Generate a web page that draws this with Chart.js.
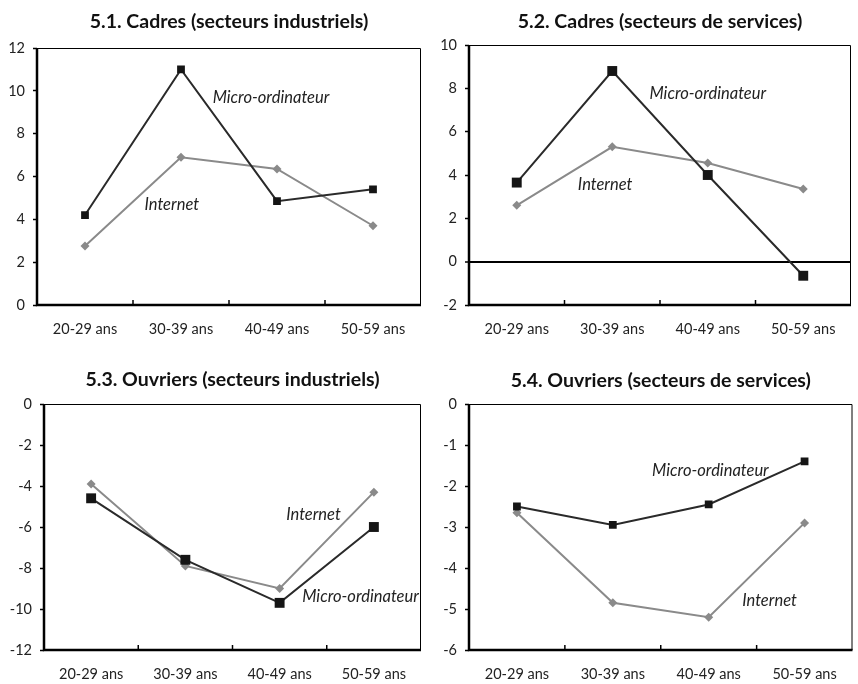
<!DOCTYPE html>
<html>
<head>
<meta charset="utf-8">
<script src="https://cdn.jsdelivr.net/npm/chart.js@4.4.0/dist/chart.umd.min.js"></script>
<style>
  html, body { margin: 0; padding: 0; background: #fff; }
  #wrap { position: relative; width: 858px; height: 684px; }
  .box { position: absolute; width: 429px; height: 342px; }
</style>
</head>
<body>
<div id="wrap">
  <div class="box" style="left:0;top:0"><canvas id="c1"></canvas></div>
  <div class="box" style="left:429px;top:0"><canvas id="c2"></canvas></div>
  <div class="box" style="left:0;top:342px"><canvas id="c3"></canvas></div>
  <div class="box" style="left:429px;top:342px"><canvas id="c4"></canvas></div>
</div>
<script>
// catégories d'âge
const ageLabels = ['20-29 ans', '30-39 ans', '40-49 ans', '50-59 ans'];

// 5.1 Cadres (secteurs industriels)
const microCadresInd = [4.2, 11.0, 4.85, 5.4];
const internetCadresInd = [2.75, 6.9, 6.35, 3.7];
// 5.2 Cadres (secteurs de services)
const microCadresServ = [3.65, 8.8, 4.0, -0.65];
const internetCadresServ = [2.6, 5.3, 4.55, 3.35];
// 5.3 Ouvriers (secteurs industriels)
const microOuvInd = [-4.6, -7.6, -9.7, -6.0];
const internetOuvInd = [-3.9, -7.9, -9.0, -4.3];
// 5.4 Ouvriers (secteurs de services)
const microOuvServ = [-2.5, -2.95, -2.45, -1.4];
const internetOuvServ = [-2.65, -4.85, -5.2, -2.9];

// graduations de l'axe Y : [min, max, pas]
const yCadresInd = [0, 12, 2];
const yCadresServ = [-2, 10, 2];
const yOuvInd = [-12, 0, 2];
const yOuvServ = [-6, 0, 1];

const FONT = 'Lato';

// cadre du graphique + petites graduations vers l'intérieur + étiquettes en italique
const framePlugin = {
  id: 'frame',
  beforeDatasetsDraw(chart) {
    const { ctx, chartArea: a, scales: { x } } = chart;
    ctx.save();
    ctx.strokeStyle = '#000';
    ctx.lineWidth = 1;
    ctx.beginPath();
    ctx.moveTo(a.left, a.top + 0.5);
    ctx.lineTo(a.right - 0.5, a.top + 0.5);
    ctx.lineTo(a.right - 0.5, a.bottom);
    ctx.stroke();
    ctx.lineWidth = 2.5;
    ctx.beginPath();
    ctx.moveTo(a.left, a.top);
    ctx.lineTo(a.left, a.bottom);
    ctx.lineTo(a.right, a.bottom);
    ctx.stroke();
    ctx.lineWidth = 1.5;
    for (let i = 0; i < x.ticks.length - 1; i++) {
      const px = (x.getPixelForTick(i) + x.getPixelForTick(i + 1)) / 2;
      ctx.beginPath();
      ctx.moveTo(px, a.bottom);
      ctx.lineTo(px, a.bottom - 5);
      ctx.stroke();
    }
    ctx.restore();
  },
  afterDatasetsDraw(chart, args, opts) {
    const { ctx, scales: { x, y } } = chart;
    ctx.save();
    ctx.font = 'italic 16.5px ' + FONT;
    ctx.fillStyle = '#222';
    ctx.textBaseline = 'middle';
    (opts.labels || []).forEach(l => {
      ctx.fillText(l.text, x.getPixelForValue(l.x), y.getPixelForValue(l.y));
    });
    ctx.restore();
  }
};

function makeChart(id, cfg) {
  const ctx = document.getElementById(id).getContext('2d');
  return new Chart(ctx, {
    type: 'line',
    data: {
      labels: ageLabels,
      datasets: [{
        label: 'Micro-ordinateur',
        data: cfg.micro,
        borderColor: '#2a2a2a',
        borderWidth: 2,
        pointStyle: 'rect',
        pointRadius: cfg.sq,
        pointHoverRadius: cfg.sq,
        pointBackgroundColor: '#151515',
        pointBorderWidth: 0,
        tension: 0,
      }, {
        label: 'Internet',
        data: cfg.internet,
        borderColor: '#8a8a8a',
        borderWidth: 2,
        pointStyle: 'rectRot',
        pointRadius: 4.5,
        pointHoverRadius: 4.5,
        pointBackgroundColor: '#8a8a8a',
        pointBorderWidth: 0,
        tension: 0,
      }]
    },
    plugins: [framePlugin],
    options: {
      responsive: true,
      maintainAspectRatio: false,
      animation: false,
      layout: { padding: { left: 0, top: 0, right: cfg.right, bottom: 0 } },
      plugins: {
        legend: { display: false },
        tooltip: { enabled: false },
        title: {
          display: true,
          fullSize: false,
          text: cfg.title,
          color: '#111',
          font: { family: FONT, size: 19.5, weight: 'bold', lineHeight: 1.2 },
          padding: { top: cfg.tTop, bottom: cfg.tBottom },
        },
        frame: { labels: cfg.notes },
      },
      scales: {
        x: {
          offset: true,
          grid: { display: false },
          border: { display: false },
          ticks: {
            color: '#222',
            font: { family: FONT, size: 14.5 },
            padding: 8,
            maxRotation: 0,
            minRotation: 0,
            autoSkip: false,
          },
          afterFit: s => { s.height = cfg.bottom; },
        },
        y: {
          min: cfg.y[0],
          max: cfg.y[1],
          ticks: {
            stepSize: cfg.y[2],
            color: '#222',
            font: { family: FONT, size: 14.5 },
            padding: 8,
          },
          border: { display: false },
          grid: {
            drawOnChartArea: !!cfg.zeroLine,
            color: c => (cfg.zeroLine && c.tick.value === 0) ? '#000' : 'rgba(0,0,0,0)',
            lineWidth: c => (cfg.zeroLine && c.tick.value === 0) ? 2 : 1,
            tickColor: '#000',
            tickWidth: 1.5,
            tickLength: 4,
          },
          afterFit: s => { s.width = cfg.left; },
        },
      },
    },
  });
}

makeChart('c1', {
  title: '5.1. Cadres (secteurs industriels)',
  micro: microCadresInd, internet: internetCadresInd, y: yCadresInd,
  left: 37, right: 8, bottom: 37, tTop: 10.3, tBottom: 14.3, sq: 5.5,
  notes: [{ text: 'Micro-ordinateur', x: 1.33, y: 9.7 }, { text: 'Internet', x: 0.62, y: 4.7 }],
});
makeChart('c2', {
  title: '5.2. Cadres (secteurs de services)',
  micro: microCadresServ, internet: internetCadresServ, y: yCadresServ, zeroLine: true,
  left: 40, right: 1, bottom: 37, tTop: 10, tBottom: 11.6, sq: 7,
  notes: [{ text: 'Micro-ordinateur', x: 1.39, y: 7.75 }, { text: 'Internet', x: 0.64, y: 3.55 }],
});
makeChart('c3', {
  title: '5.3. Ouvriers (secteurs industriels)',
  micro: microOuvInd, internet: internetOuvInd, y: yOuvInd,
  left: 44, right: 8, bottom: 34, tTop: 26.3, tBottom: 12.3, sq: 7,
  notes: [{ text: 'Internet', x: 2.07, y: -5.4 }, { text: 'Micro-ordinateur', x: 2.24, y: -9.4 }],
});
makeChart('c4', {
  title: '5.4. Ouvriers (secteurs de services)',
  micro: microOuvServ, internet: internetOuvServ, y: yOuvServ,
  left: 40, right: 1, bottom: 34, tTop: 26.6, tBottom: 12, sq: 5.5,
  notes: [{ text: 'Micro-ordinateur', x: 1.41, y: -1.62 }, { text: 'Internet', x: 2.35, y: -4.8 }],
});
</script>
</body>
</html>
